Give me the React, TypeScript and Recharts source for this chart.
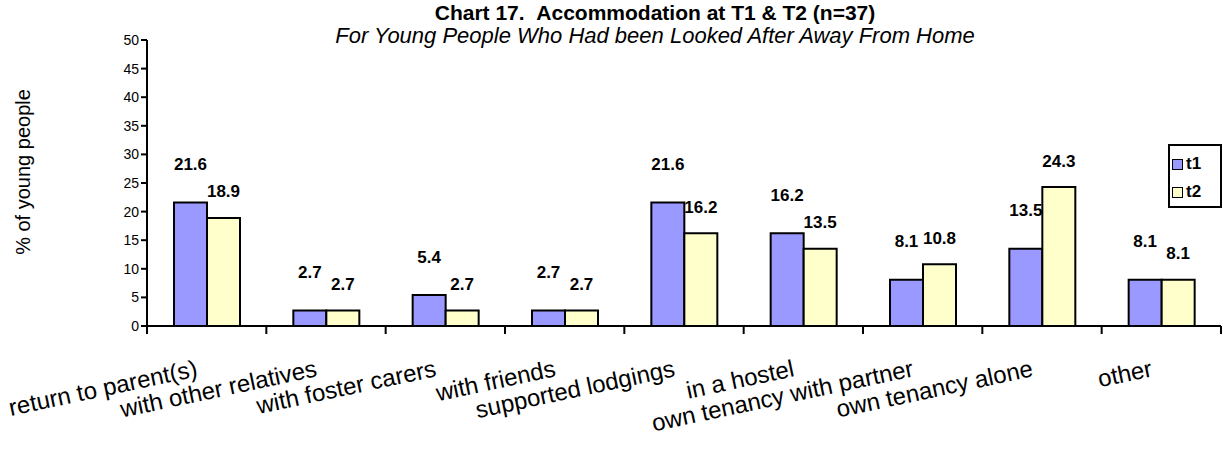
import { BarChart, Bar, XAxis, YAxis, LabelList } from "recharts";

const categories = [
  "return to parent(s)",
  "with other relatives",
  "with foster carers",
  "with friends",
  "supported lodgings",
  "in a hostel",
  "own tenancy with partner",
  "own tenancy alone",
  "other",
];
const t1 = [21.6, 2.7, 5.4, 2.7, 21.6, 16.2, 8.1, 13.5, 8.1];
const t2 = [18.9, 2.7, 2.7, 2.7, 16.2, 13.5, 10.8, 24.3, 8.1];
const yTicks = [0, 5, 10, 15, 20, 25, 30, 35, 40, 45, 50];

const data = categories.map((name, i) => ({ name, t1: t1[i], t2: t2[i] }));

const FONT = "Liberation Sans, Arial, sans-serif";
const PLOT_LEFT = 147;
const PLOT_RIGHT = 1221;
const BAND = (PLOT_RIGHT - PLOT_LEFT) / categories.length;

function CategoryTick(props: any) {
  const { x, y, payload, index } = props;
  const left = x - BAND / 2;
  const tx = x - 8;
  const ty = y + 42;
  return (
    <g>
      <line x1={left} y1={y - 8} x2={left} y2={y} stroke="#000" strokeWidth={2} />
      {index === categories.length - 1 && (
        <line x1={x + BAND / 2} y1={y - 8} x2={x + BAND / 2} y2={y} stroke="#000" strokeWidth={2} />
      )}
      <text
        x={tx}
        y={ty}
        textAnchor="end"
        fontSize={24}
        fontFamily={FONT}
        fill="#000"
        transform={`rotate(-12, ${tx}, ${ty})`}
      >
        {payload.value}
      </text>
    </g>
  );
}

function valueLabel(offset: number) {
  return (props: any) => {
    const { x, y, width, value } = props;
    return (
      <text
        x={x + width / 2}
        y={y - offset}
        textAnchor="middle"
        dominantBaseline="central"
        fontSize={17}
        fontWeight="bold"
        fontFamily={FONT}
        fill="#000"
      >
        {value}
      </text>
    );
  };
}

function LegendBox() {
  const items = [
    { key: "t1", color: "#9999FF" },
    { key: "t2", color: "#FFFFCC" },
  ];
  return (
    <div
      style={{
        position: "absolute",
        left: 1168,
        top: 144,
        border: "2px solid #000",
        width: 54,
        height: 64,
        background: "#fff",
        fontFamily: FONT,
        fontWeight: "bold",
        fontSize: 17,
        boxSizing: "border-box",
        padding: "4px 0 0 2px",
      }}
    >
      {items.map((it) => (
        <div key={it.key} style={{ display: "flex", alignItems: "center", height: 28 }}>
          <span
            style={{
              display: "inline-block",
              width: 9,
              height: 9,
              border: "1.5px solid #000",
              background: it.color,
              marginRight: 3,
            }}
          />
          {it.key}
        </div>
      ))}
    </div>
  );
}

export default function App() {
  return (
    <div style={{ position: "absolute", left: 0, top: 0, width: 1223, height: 449, background: "#fff" }}>
      <BarChart
        width={1223}
        height={449}
        data={data}
        margin={{ top: 40, right: 2, bottom: 0, left: 0 }}
        barSize={33}
        barGap={0}
      >
        <text x={655} y={20} textAnchor="middle" fontFamily={FONT} fontWeight="bold" fontSize={21} style={{ whiteSpace: "pre" }}>
          Chart 17.{"\u00a0\u00a0"}Accommodation at T1 &amp; T2 (n=37)
        </text>
        <text x={655} y={43} textAnchor="middle" fontFamily={FONT} fontStyle="italic" fontSize={22}>
          For Young People Who Had been Looked After Away From Home
        </text>
        <text
          x={0}
          y={0}
          transform="translate(30, 172) rotate(-90)"
          textAnchor="middle"
          fontFamily={FONT}
          fontSize={20}
          fill="#000"
        >
          % of young people
        </text>
        <XAxis
          dataKey="name"
          interval={0}
          tickLine={false}
          axisLine={{ stroke: "#000", strokeWidth: 2 }}
          tick={<CategoryTick />}
          height={123}
        />
        <YAxis
          width={PLOT_LEFT}
          domain={[0, 50]}
          ticks={yTicks}
          interval={0}
          tickSize={6}
          axisLine={{ stroke: "#000", strokeWidth: 2 }}
          tickLine={{ stroke: "#000", strokeWidth: 2 }}
          tick={{ fontSize: 14, fontFamily: FONT, fill: "#000" }}
        />
        <Bar dataKey="t1" fill="#9999FF" stroke="#000" strokeWidth={2} isAnimationActive={false}>
          <LabelList dataKey="t1" content={valueLabel(38)} />
        </Bar>
        <Bar dataKey="t2" fill="#FFFFCC" stroke="#000" strokeWidth={2} isAnimationActive={false}>
          <LabelList dataKey="t2" content={valueLabel(26)} />
        </Bar>
      </BarChart>
      <LegendBox />
    </div>
  );
}
